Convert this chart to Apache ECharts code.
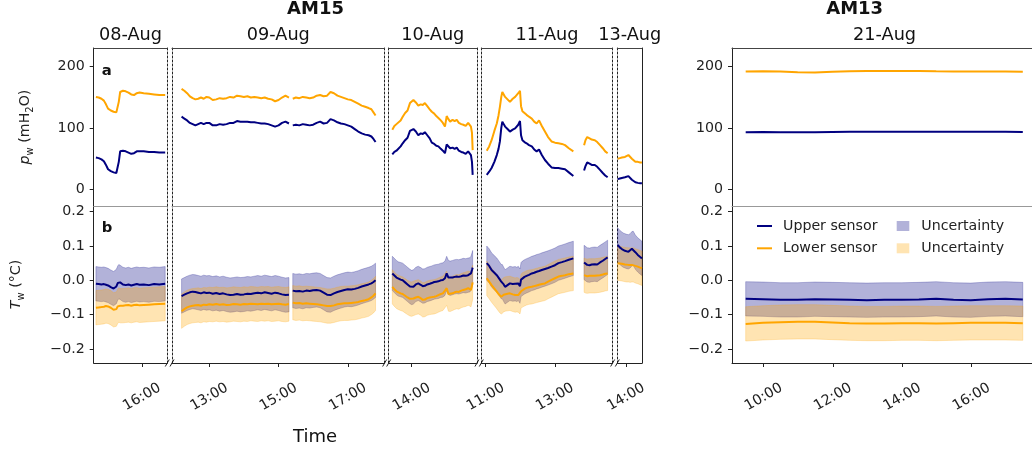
<!DOCTYPE html>
<html>
<head>
<meta charset="utf-8">
<script src="https://cdn.jsdelivr.net/npm/echarts@6/dist/echarts.min.js"></script>
<style>
  html, body { margin: 0; padding: 0; background: #fff; }
  #chart { width: 1032px; height: 454px; }
</style>
</head>
<body>
<div id="chart"></div>
<script>
// ---- data (hours of day, pressure in mH2O, temperature in degC) ----
const aug08Hours  = [14.67, 14.75, 14.83, 14.90, 14.96, 15.02, 15.10, 15.18, 15.26, 15.30, 15.33, 15.37, 15.45, 15.53, 15.61, 15.69, 15.77, 15.85, 15.93, 16.05, 16.20, 16.35, 16.50, 16.67];
const aug08UpperP = [52, 51, 49, 46, 40, 33, 30, 28, 27, 27, 45, 62, 63, 62, 60, 58, 59, 62, 62, 62, 61, 61, 60, 60];
const aug08LowerP = [150, 149, 147, 144, 138, 131, 128, 126, 125, 125, 142, 158, 160, 159, 157, 154, 153, 156, 157, 156, 155, 154, 153, 153];
const aug08UpperT = [-0.010, -0.011, -0.012, -0.011, -0.013, -0.015, -0.020, -0.024, -0.018, -0.008, -0.004, -0.006, -0.012, -0.014, -0.012, -0.015, -0.013, -0.011, -0.013, -0.012, -0.014, -0.011, -0.012, -0.010];
const aug08LowerT = [-0.080, -0.079, -0.078, -0.077, -0.075, -0.076, -0.080, -0.086, -0.084, -0.076, -0.072, -0.074, -0.074, -0.073, -0.072, -0.074, -0.072, -0.071, -0.073, -0.072, -0.071, -0.070, -0.069, -0.068];

const aug09aHours  = [12.20, 12.28, 12.36, 12.44, 12.52, 12.60, 12.68, 12.76, 12.84, 12.92, 13.00, 13.10, 13.20, 13.30, 13.40, 13.50, 13.60, 13.70, 13.80, 13.90, 14.00, 14.10, 14.20, 14.30, 14.40, 14.50, 14.60, 14.70, 14.80, 14.90, 15.00, 15.10, 15.20, 15.30];
const aug09aUpperP = [118, 115, 112, 108, 106, 104, 106, 108, 106, 108, 108, 104, 104, 106, 105, 106, 108, 108, 111, 110, 110, 110, 109, 109, 108, 107, 107, 106, 104, 102, 104, 108, 110, 107];
const aug09aLowerP = [163, 160, 156, 151, 148, 146, 147, 149, 147, 150, 149, 145, 146, 148, 147, 148, 150, 149, 152, 151, 150, 151, 149, 150, 149, 148, 149, 147, 146, 143, 145, 149, 152, 149];
const aug09aUpperT = [-0.046, -0.042, -0.038, -0.035, -0.033, -0.034, -0.036, -0.038, -0.035, -0.037, -0.036, -0.039, -0.037, -0.040, -0.038, -0.041, -0.043, -0.042, -0.040, -0.042, -0.041, -0.039, -0.040, -0.038, -0.036, -0.038, -0.035, -0.037, -0.039, -0.036, -0.038, -0.041, -0.043, -0.042];
const aug09aLowerT = [-0.090, -0.084, -0.079, -0.076, -0.074, -0.073, -0.072, -0.074, -0.071, -0.072, -0.070, -0.071, -0.069, -0.071, -0.070, -0.072, -0.071, -0.069, -0.070, -0.071, -0.069, -0.070, -0.068, -0.069, -0.070, -0.068, -0.069, -0.068, -0.070, -0.069, -0.068, -0.070, -0.071, -0.069];

const aug09bHours  = [15.41, 15.50, 15.60, 15.70, 15.80, 15.90, 16.00, 16.10, 16.20, 16.30, 16.40, 16.50, 16.60, 16.70, 16.80, 16.90, 17.00, 17.10, 17.20, 17.30, 17.40, 17.50, 17.60, 17.68, 17.74, 17.80];
const aug09bUpperP = [104, 105, 104, 106, 105, 104, 105, 108, 110, 107, 108, 114, 112, 109, 107, 106, 104, 102, 98, 94, 91, 89, 88, 86, 82, 77];
const aug09bLowerP = [147, 149, 148, 150, 149, 148, 149, 152, 153, 151, 152, 158, 156, 152, 150, 148, 146, 145, 142, 139, 136, 134, 132, 130, 125, 120];
const aug09bUpperT = [-0.030, -0.032, -0.031, -0.033, -0.030, -0.031, -0.029, -0.028, -0.030, -0.036, -0.042, -0.043, -0.038, -0.034, -0.031, -0.028, -0.026, -0.027, -0.025, -0.022, -0.018, -0.015, -0.012, -0.009, -0.005, 0.000];
const aug09bLowerT = [-0.065, -0.067, -0.066, -0.068, -0.067, -0.068, -0.069, -0.070, -0.071, -0.073, -0.075, -0.075, -0.073, -0.070, -0.068, -0.067, -0.067, -0.066, -0.065, -0.063, -0.060, -0.058, -0.055, -0.050, -0.045, -0.038];

const aug10Hours  = [13.44, 13.50, 13.56, 13.61, 13.68, 13.74, 13.81, 13.88, 13.95, 14.00, 14.05, 14.12, 14.19, 14.26, 14.32, 14.38, 14.45, 14.52, 14.58, 14.65, 14.71, 14.77, 14.84, 14.90, 14.96, 15.01, 15.06, 15.11, 15.18, 15.24, 15.30, 15.36, 15.43, 15.49, 15.56, 15.63, 15.68, 15.71, 15.74, 15.76];
const aug10UpperP = [57, 61, 63, 64, 70, 75, 80, 84, 95, 97, 98, 94, 88, 91, 90, 93, 88, 83, 76, 74, 71, 70, 66, 63, 59, 73, 70, 67, 68, 66, 68, 63, 61, 60, 58, 62, 60, 56, 45, 24];
const aug10LowerP = [97, 103, 106, 107, 112, 118, 124, 128, 140, 143, 145, 141, 136, 138, 137, 140, 135, 130, 126, 123, 119, 116, 112, 108, 102, 119, 114, 110, 113, 111, 113, 108, 106, 105, 103, 108, 106, 102, 92, 64];
const aug10UpperT = [0.020, 0.014, 0.008, 0.004, 0.002, 0.000, -0.006, -0.012, -0.018, -0.021, -0.019, -0.012, -0.009, -0.013, -0.017, -0.016, -0.012, -0.010, -0.008, -0.005, -0.004, -0.003, 0.000, 0.001, 0.006, 0.020, 0.008, 0.006, 0.008, 0.010, 0.011, 0.010, 0.012, 0.014, 0.013, 0.015, 0.016, 0.020, 0.030, 0.037];
const aug10LowerT = [-0.019, -0.026, -0.032, -0.035, -0.038, -0.040, -0.045, -0.050, -0.054, -0.055, -0.053, -0.050, -0.048, -0.052, -0.057, -0.056, -0.052, -0.050, -0.049, -0.048, -0.046, -0.043, -0.040, -0.038, -0.030, -0.023, -0.040, -0.041, -0.038, -0.035, -0.033, -0.034, -0.030, -0.028, -0.026, -0.023, -0.025, -0.028, -0.015, -0.006];

const aug11aHours  = [11.03, 11.10, 11.17, 11.25, 11.32, 11.37, 11.41, 11.45, 11.48, 11.52, 11.56, 11.63, 11.70, 11.78, 11.85, 11.90, 11.94, 11.99, 12.02, 12.06, 12.12, 12.18, 12.25, 12.33, 12.40, 12.47, 12.54, 12.62, 12.71, 12.80, 12.90, 13.00, 13.10, 13.20, 13.29, 13.40, 13.53];
const aug11aUpperP = [24, 29, 35, 45, 56, 66, 78, 100, 110, 106, 102, 98, 94, 97, 99, 101, 105, 111, 88, 80, 77, 75, 72, 70, 65, 62, 65, 56, 48, 42, 36, 35, 35, 34, 33, 28, 22];
const aug11aLowerP = [63, 70, 80, 95, 107, 120, 134, 150, 158, 155, 150, 146, 142, 147, 150, 152, 156, 160, 135, 127, 124, 121, 118, 115, 110, 107, 112, 103, 94, 85, 78, 76, 75, 74, 72, 67, 62];
const aug11aUpperT = [0.050, 0.042, 0.030, 0.022, 0.015, 0.008, 0.002, -0.004, -0.004, -0.012, -0.019, -0.014, -0.009, -0.011, -0.010, -0.012, -0.009, -0.017, 0.002, 0.006, 0.010, 0.013, 0.016, 0.020, 0.022, 0.025, 0.027, 0.030, 0.033, 0.036, 0.040, 0.044, 0.050, 0.053, 0.056, 0.060, 0.064];
const aug11aLowerT = [0.006, -0.004, -0.014, -0.024, -0.033, -0.040, -0.045, -0.048, -0.046, -0.042, -0.040, -0.039, -0.038, -0.041, -0.043, -0.042, -0.043, -0.048, -0.032, -0.028, -0.025, -0.022, -0.020, -0.019, -0.017, -0.015, -0.013, -0.011, -0.009, -0.004, 0.001, 0.006, 0.011, 0.013, 0.015, 0.018, 0.020];

const aug11bHours  = [13.84, 13.88, 13.93, 14.00, 14.06, 14.15, 14.22, 14.30, 14.38, 14.45, 14.52];
const aug11bUpperP = [31, 38, 44, 42, 40, 40, 37, 32, 27, 23, 20];
const aug11bLowerP = [72, 80, 85, 83, 81, 80, 77, 72, 67, 62, 59];
const aug11bUpperT = [0.052, 0.049, 0.045, 0.044, 0.046, 0.047, 0.046, 0.052, 0.057, 0.062, 0.067];
const aug11bLowerT = [0.015, 0.013, 0.012, 0.013, 0.013, 0.013, 0.014, 0.015, 0.017, 0.019, 0.020];

const aug13Hours  = [13.76, 13.82, 13.88, 13.92, 13.97, 14.02, 14.07, 14.12, 14.17, 14.21, 14.27, 14.34, 14.41, 14.46];
const aug13UpperP = [17, 18, 19, 19.5, 20, 21, 22, 19, 16, 14, 12, 11, 10.5, 10.5];
const aug13LowerP = [50, 51, 52, 52, 53, 54, 56, 53, 50, 47, 45, 45, 44, 44];
const aug13UpperT = [0.103, 0.096, 0.091, 0.088, 0.086, 0.084, 0.083, 0.086, 0.092, 0.093, 0.082, 0.074, 0.068, 0.064];
const aug13LowerT = [0.050, 0.049, 0.048, 0.047, 0.046, 0.045, 0.045, 0.044, 0.045, 0.045, 0.042, 0.040, 0.037, 0.035];

const aug21Hours  = [9.48, 9.98, 10.48, 10.98, 11.48, 11.98, 12.48, 12.98, 13.48, 13.98, 14.48, 14.98, 15.48, 15.98, 16.48, 16.98, 17.48];
const aug21UpperP = [93, 93.2, 93, 92.8, 92.8, 93.2, 93.5, 93.6, 93.7, 93.7, 93.6, 93.6, 93.5, 93.5, 93.5, 93.5, 93.4];
const aug21LowerP = [191, 191.5, 191, 190, 189.5, 190.5, 191.5, 191.8, 192, 192, 191.8, 191.5, 191.3, 191, 191, 191, 190.5];
const aug21UpperT = [-0.054, -0.055, -0.057, -0.057, -0.055, -0.056, -0.057, -0.058, -0.057, -0.057, -0.056, -0.054, -0.057, -0.058, -0.055, -0.054, -0.056];
const aug21LowerT = [-0.127, -0.124, -0.122, -0.121, -0.121, -0.123, -0.125, -0.126, -0.126, -0.125, -0.125, -0.126, -0.125, -0.124, -0.124, -0.124, -0.125];

const UNCERTAINTY = 0.05;   // +/- band on temperature

// panels: 5 broken pieces for AM15, one for AM13
const panelDates = ['08-Aug', '09-Aug', '10-Aug', '11-Aug', '13-Aug', '21-Aug'];
const panelMin   = [14.606, 11.924, 13.336, 10.873, 13.749, 9.085];
const panelMax   = [16.730, 18.063, 15.884, 14.665, 14.462, 17.894];
const panelTicks = [[16], [13, 15, 17], [14], [11, 13], [14], [10, 12, 14, 16]];
const pressureTicks = [0, 100, 200];
const tempTicks = [-0.2, -0.1, 0.0, 0.1, 0.2];

// ---- layout ----
const FONT = 'DejaVu Sans';
const TICK_SIZE = 14.2;
const NAVY = '#000080', ORANGE = '#ffa500';
const BAND_NAVY = 'rgba(0,0,128,0.3)', BAND_ORANGE = 'rgba(255,165,0,0.3)';
const PX_PER_HOUR = 34.64;
const panelLeft = [93.7, 172, 388.7, 481.3, 617.3, 732];
const TOP_Y = 48, MID_Y = 206, BOT_Y = 363;
const P_MIN = -26.4, P_MAX = 229.1, T_MIN = -0.241, T_MAX = 0.2166;
const leftSolid  = [true, false, false, false, false, true];
const rightSolid = [false, false, false, false, true, true];

const segments = [
  { panel: 0, hours: aug08Hours,  upperP: aug08UpperP,  lowerP: aug08LowerP,  upperT: aug08UpperT,  lowerT: aug08LowerT },
  { panel: 1, hours: aug09aHours, upperP: aug09aUpperP, lowerP: aug09aLowerP, upperT: aug09aUpperT, lowerT: aug09aLowerT },
  { panel: 1, hours: aug09bHours, upperP: aug09bUpperP, lowerP: aug09bLowerP, upperT: aug09bUpperT, lowerT: aug09bLowerT },
  { panel: 2, hours: aug10Hours,  upperP: aug10UpperP,  lowerP: aug10LowerP,  upperT: aug10UpperT,  lowerT: aug10LowerT },
  { panel: 3, hours: aug11aHours, upperP: aug11aUpperP, lowerP: aug11aLowerP, upperT: aug11aUpperT, lowerT: aug11aLowerT },
  { panel: 3, hours: aug11bHours, upperP: aug11bUpperP, lowerP: aug11bLowerP, upperT: aug11bUpperT, lowerT: aug11bLowerT },
  { panel: 4, hours: aug13Hours,  upperP: aug13UpperP,  lowerP: aug13LowerP,  upperT: aug13UpperT,  lowerT: aug13LowerT },
  { panel: 5, hours: aug21Hours,  upperP: aug21UpperP,  lowerP: aug21LowerP,  upperT: aug21UpperT,  lowerT: aug21LowerT }
];

const panelWidth = panelMin.map((m, i) => (panelMax[i] - m) * PX_PER_HOUR);
const hhmm = v => String(Math.round(v)).padStart(2, '0') + ':00';
const minus = v => (v < 0 ? '\u2212' : '') + Math.abs(v).toFixed(1);
const dotted = [2, 2];

const grids = [], xAxes = [], yAxes = [];
// grids 0-5 pressure, 6-11 temperature
[0, 1].forEach(row => {
  panelLeft.forEach((left, p) => {
    grids.push({
      left: left, width: panelWidth[p],
      top: row === 0 ? TOP_Y : MID_Y,
      height: row === 0 ? MID_Y - TOP_Y : BOT_Y - MID_Y,
      outerBoundsMode: 'none'
    });
  });
});

function plainAxis(extra) {
  return Object.assign({
    type: 'value', splitLine: { show: false },
    axisTick: { show: false }, axisLabel: { show: false }
  }, extra);
}

// x axes: 0-5 top spine of pressure grids, 6-11 time axes, 12-17 separator lines
panelLeft.forEach((_, p) => xAxes.push(plainAxis({
  gridIndex: p, position: 'top', min: panelMin[p], max: panelMax[p],
  axisLine: { show: true, onZero: false, lineStyle: { color: '#444', width: 1 } }
})));
panelLeft.forEach((_, p) => xAxes.push({
  type: 'value', gridIndex: 6 + p, position: 'bottom', min: panelMin[p], max: panelMax[p],
  splitLine: { show: false },
  axisLine: { show: true, onZero: false, lineStyle: { color: '#222', width: 1 } },
  axisTick: { show: true, length: 4, customValues: panelTicks[p], lineStyle: { color: '#222' } },
  axisLabel: {
    customValues: panelTicks[p], formatter: hhmm, rotate: 30, align: 'center', verticalAlign: 'middle',
    margin: 34, fontFamily: FONT, fontSize: TICK_SIZE, color: '#222'
  }
}));
panelLeft.forEach((_, p) => xAxes.push(plainAxis({
  gridIndex: 6 + p, position: 'top', min: panelMin[p], max: panelMax[p],
  axisLine: { show: true, onZero: false, lineStyle: { color: '#999', width: 1 } }
})));

const nameStyle = {
  fontFamily: FONT, fontSize: TICK_SIZE, color: '#222',
  rich: {
    it: { fontFamily: FONT, fontSize: TICK_SIZE, fontStyle: 'italic', color: '#222' },
    sub: { fontFamily: FONT, fontSize: 10, color: '#222', verticalAlign: 'bottom', padding: [0, 0, -3, 0] }
  }
};

function yAxisFor(grid, p, row, side) {
  const isPressure = row === 0;
  const solid = side === 'left' ? leftSolid[p] : rightSolid[p];
  const labelled = side === 'left' && (p === 0 || p === 5);
  const ax = {
    type: 'value', gridIndex: grid, position: side,
    min: isPressure ? P_MIN : T_MIN, max: isPressure ? P_MAX : T_MAX,
    splitLine: { show: false },
    axisLine: { show: true, onZero: false, lineStyle: { color: '#222', width: 1, type: solid ? 'solid' : dotted } },
    axisTick: { show: labelled, length: 4, customValues: isPressure ? pressureTicks : tempTicks, lineStyle: { color: '#222' } },
    axisLabel: {
      show: labelled, customValues: isPressure ? pressureTicks : tempTicks,
      formatter: isPressure ? (v => String(v)) : minus,
      margin: 9, fontFamily: FONT, fontSize: TICK_SIZE, color: '#222'
    }
  };
  if (side === 'left' && p === 0) {
    ax.name = isPressure ? '{it|p}{sub|w} (mH{sub|2}O)' : '{it|T}{sub|w} (\u00b0C)';
    ax.nameLocation = 'middle';
    ax.nameGap = isPressure ? 61 : 70;
    ax.nameTextStyle = nameStyle;
  }
  return ax;
}

// y axes: 0-5 pressure left, 6-11 temperature left, 12-17 pressure right, 18-23 temperature right
panelLeft.forEach((_, p) => yAxes.push(yAxisFor(p, p, 0, 'left')));
panelLeft.forEach((_, p) => yAxes.push(yAxisFor(6 + p, p, 1, 'left')));
panelLeft.forEach((_, p) => yAxes.push(yAxisFor(p, p, 0, 'right')));
panelLeft.forEach((_, p) => yAxes.push(yAxisFor(6 + p, p, 1, 'right')));

function bandSeries(seg, vals, name, color) {
  return {
    type: 'custom', name: name, xAxisIndex: 6 + seg.panel, yAxisIndex: 6 + seg.panel,
    itemStyle: { color: color }, z: 1, silent: true, animation: false,
    data: [[seg.hours[0], vals[0]]],
    renderItem: function (params, api) {
      const hi = seg.hours.map((h, i) => api.coord([h, vals[i] + UNCERTAINTY]));
      const lo = seg.hours.map((h, i) => api.coord([h, vals[i] - UNCERTAINTY])).reverse();
      return {
        type: 'polygon', shape: { points: hi.concat(lo) },
        style: { fill: color, stroke: color, lineWidth: 0.8 }
      };
    }
  };
}

function lineSeries(seg, vals, name, color, axis) {
  return {
    type: 'line', name: name, xAxisIndex: axis, yAxisIndex: axis,
    data: seg.hours.map((h, i) => [h, vals[i]]),
    showSymbol: false, symbol: 'none', z: 3, silent: true, animation: false,
    lineStyle: { color: color, width: 2 }, itemStyle: { color: color }
  };
}

const series = [];
segments.forEach(seg => {
  series.push(bandSeries(seg, seg.upperT, 'Uncertainty (upper)', BAND_NAVY));
  series.push(bandSeries(seg, seg.lowerT, 'Uncertainty (lower)', BAND_ORANGE));
});
segments.forEach(seg => {
  series.push(lineSeries(seg, seg.upperP, 'Upper sensor', NAVY, seg.panel));
  series.push(lineSeries(seg, seg.lowerP, 'Lower sensor', ORANGE, seg.panel));
  series.push(lineSeries(seg, seg.upperT, 'Upper sensor', NAVY, 6 + seg.panel));
  series.push(lineSeries(seg, seg.lowerT, 'Lower sensor', ORANGE, 6 + seg.panel));
});

// texts and break marks
const graphic = [];
function label(text, x, y, size, weight, align) {
  graphic.push({
    type: 'text', x: x, y: y, silent: true,
    style: { text: text, fontFamily: FONT, fontSize: size, fontWeight: weight || 'normal', fill: '#111',
             align: align || 'center', verticalAlign: 'middle' }
  });
}
label('AM15', 315.5, 9.8, 18, 'bold');
label('AM13', 854.7, 9.8, 18, 'bold');
panelDates.forEach((d, p) => label(d, panelLeft[p] + panelWidth[p] / 2, 35.8, 17.7));
label('a', 101.7, 71, 14.8, 'bold', 'left');
label('b', 101.7, 228.3, 14.8, 'bold', 'left');
label('Time', 315, 437, 18);
for (let p = 0; p < 4; p++) {
  [panelLeft[p] + panelWidth[p], panelLeft[p + 1]].forEach(x => graphic.push({
    type: 'line', silent: true,
    shape: { x1: x - 2, y1: BOT_Y + 3.5, x2: x + 2, y2: BOT_Y - 3.5 },
    style: { stroke: '#222', lineWidth: 1 }
  }));
}

const legendText = { fontFamily: FONT, fontSize: 14.2, color: '#222', lineHeight: 16 };

const chart = echarts.init(document.getElementById('chart'), null, { renderer: 'canvas' });
chart.setOption({
  animation: false,
  backgroundColor: '#fff',
  grid: grids,
  xAxis: xAxes,
  yAxis: yAxes,
  legend: [
    {
      data: ['Upper sensor', 'Lower sensor'], orient: 'vertical', left: 757, top: 218,
      icon: 'rect', itemWidth: 15, itemHeight: 2, itemGap: 6.3, padding: 0, selectedMode: false,
      textStyle: Object.assign({ padding: [0, 0, 0, 6] }, legendText)
    },
    {
      data: ['Uncertainty (upper)', 'Uncertainty (lower)'], orient: 'vertical', left: 896.7, top: 218,
      icon: 'rect', itemWidth: 12.6, itemHeight: 10, itemGap: 6.3, padding: 0, selectedMode: false,
      formatter: () => 'Uncertainty',
      textStyle: Object.assign({ padding: [0, 0, 0, 7] }, legendText)
    }
  ],
  graphic: graphic,
  series: series
});
</script>
</body>
</html>
